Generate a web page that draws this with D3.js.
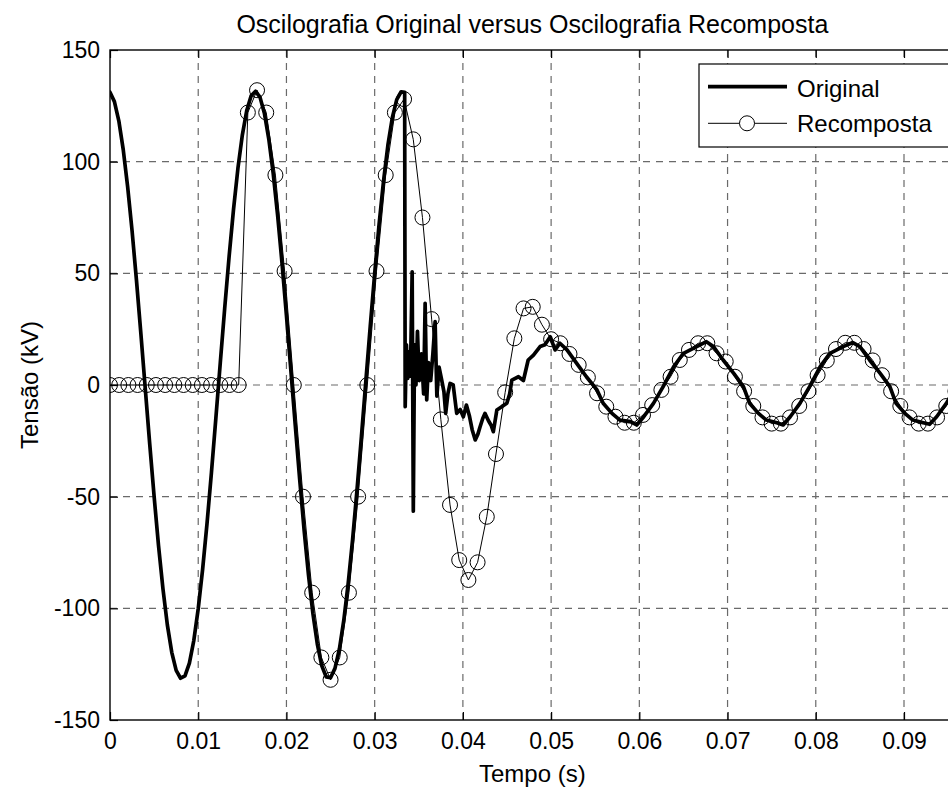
<!DOCTYPE html>
<html>
<head>
<meta charset="utf-8">
<script src="https://cdn.jsdelivr.net/npm/d3@7"></script>
<style>
  html, body { margin: 0; padding: 0; background: #fff; }
  svg { display: block; font-family: "Liberation Sans", Arial, Helvetica, sans-serif; }
</style>
</head>
<body>
<svg id="chart" width="948" height="789"></svg>
<script>
// ---- data -------------------------------------------------------------
// Original record: time (ms) and voltage (kV)
const origMs = [
  0, 0.5, 1, 1.5, 2, 2.5, 3, 3.5, 4, 4.5, 5, 5.5, 6, 6.5, 7, 7.5, 8, 8.5, 9, 9.5,
  10, 10.5, 11, 11.5, 12, 12.5, 13, 13.5, 14, 14.5, 15, 15.5, 16, 16.5, 17, 17.5,
  18, 18.5, 19, 19.5, 20, 20.5, 21, 21.5, 22, 22.5, 23, 23.5, 24, 24.5, 25, 25.5,
  26, 26.5, 27, 27.5, 28, 28.5, 29, 29.5, 30, 30.5, 31, 31.5, 32, 32.5, 33,
  33.40, 33.46, 33.60, 33.75, 33.90, 34.05, 34.25, 34.38, 34.52, 34.68, 34.85,
  35.05, 35.30, 35.55, 35.72, 35.90, 36.10, 36.35, 36.60, 36.85, 37.05, 37.30,
  37.60, 37.85, 38.05, 38.30, 38.55, 38.90, 39.30, 39.70, 40.05, 40.40, 40.75,
  41.05, 41.40, 41.70, 41.95, 42.25, 42.50, 42.90, 43.20, 43.45, 43.85, 44.40,
  44.98, 45.30, 45.55, 46.30, 46.86, 47.40, 48.00, 48.75, 49.30, 49.90, 50.45,
  51.00, 51.80, 52.90, 54.00, 55.20, 55.90, 56.90, 57.80, 59.00, 59.70, 60.50,
  61.60, 62.70, 63.90, 65.00, 66.50, 67.60, 68.40, 69.50, 70.70, 71.80, 72.50,
  73.50, 74.40, 75.60, 76.30, 77.10, 78.20, 79.30, 80.50, 81.60, 83.10, 84.20,
  85.00, 86.10, 87.30, 88.40, 89.10, 90.10, 91.00, 92.20, 92.90, 93.70, 94.80,
  95.90, 97.10
];
const origKV = [
  131.1, 126.9, 118.3, 105.4, 88.8, 69.1, 46.9, 23.0, -1.7, -26.3,
  -49.9, -71.9, -91.2, -107.4, -119.7, -127.8, -131.3, -130.2, -124.5, -114.4,
  -100.2, -82.5, -61.9, -39.1, -14.8, 9.9, 34.3, 57.5, 78.6, 97.0,
  111.9, 122.9, 129.5, 131.5, 128.9, 121.7, 110.1, 94.7, 76.0, 54.5,
  31.1, 6.6, -18.1, -42.2, -64.8, -85.1, -102.3, -116.0, -125.6, -130.7,
  -131.1, -126.9, -118.3, -105.4, -88.8, -69.1, -46.9, -23.0, 1.7, 26.3,
  49.9, 71.9, 91.2, 107.4, 119.7, 127.8, 131.3,
  131.0, -9.7, 18, 3, 15, 4, 50.7, -56.5, 18, 0, 24,
  2, 14, -4, 36.6, -6.7, 10, 2, 14, 28.4, -5, 8,
  2.2, -3, -12.7, -4, 0.7, 0, -12.7, -11, -14.2, -9, -14,
  -20, -24.6, -22, -18.7, -15, -12.7, -16, -18, -20.9, -11.2, -9.7,
  -8.2, -4, 2.2, 3.7, 2, 11.2, 13.4, 17.2, 18, 21.6, 15.7,
  18.7, 15.7, 9.7, 3.7, -2.2, -8.2, -12.7, -15.7, -16.4, -17.9, -14.2,
  -8.2, -0.7, 8.2, 14.2, 17.2, 19.4, 17.2, 11.2, 5.2, -0.7, -8.2,
  -12.7, -15.7, -16.9, -17.9, -14.2, -8.2, -0.7, 8.2, 14.2, 17.2, 19.0,
  17.2, 11.2, 5.2, -0.7, -8.2, -12.7, -15.7, -16.9, -17.6, -14.2, -8.2,
  -0.7, 8.2
];

// Recomposed signal: one estimate per sample, 16 samples per 60 Hz cycle
const recompRate = 960;   // samples per second
const recompKV = [
  0, 0, 0, 0, 0, 0, 0, 0, 0, 0, 0, 0, 0, 0, 0,
  122, 132, 122, 94, 51, 0, -50, -93, -122, -132, -122, -93, -50, 0, 51, 94, 122,
  128, 110, 75, 29.5, -15.4, -53.7, -78.4, -87.3, -79.4, -59, -30.9, -3.3, 20.9,
  34.3, 35, 27, 20.5, 18.7, 13.9, 9, 3.4, -3.7, -9.7, -14.2, -16.9, -16.9, -13.4,
  -9, -2.2, 3.7, 11.2, 15.7, 18.7, 18.7, 14.2, 10.5, 3.7, -2.8, -9.4, -14.5,
  -17.3, -17.3, -14.5, -9.4, -2.8, 4.4, 11.0, 16.1, 18.9, 18.9, 16.1, 11.0, 4.4,
  -2.8, -9.4, -14.5, -17.3, -17.3, -14.5, -9.4, -2.8, 4.4
];

const xTicks = [0, 0.01, 0.02, 0.03, 0.04, 0.05, 0.06, 0.07, 0.08, 0.09];
const xTickLabels = ["0", "0.01", "0.02", "0.03", "0.04", "0.05", "0.06", "0.07", "0.08", "0.09"];
const yTicks = [-150, -100, -50, 0, 50, 100, 150];
const yTickLabels = ["-150", "-100", "-50", "0", "50", "100", "150"];

const seriesNames = ["Original", "Recomposta"];
const titleText = "Oscilografia Original versus Oscilografia Recomposta";
const xLabelText = "Tempo (s)";
const yLabelText = "Tensão (kV)";

// ---- layout -----------------------------------------------------------
const plot = { left: 110, right: 958.7, top: 50, bottom: 720 };
const tickFont = 23;
const labelFont = 24;
const titleFont = 25;

const svg = d3.select("#chart");

const x = d3.scaleLinear().domain([0, 0.0962]).range([plot.left, plot.right]);
const y = d3.scaleLinear().domain([-150, 150]).range([plot.bottom, plot.top]);

svg.append("defs").append("clipPath").attr("id", "plotClip")
  .append("rect")
  .attr("x", plot.left).attr("y", plot.top)
  .attr("width", plot.right - plot.left).attr("height", plot.bottom - plot.top);

// grid
const grid = svg.append("g")
  .attr("stroke", "#6a6a6a").attr("stroke-width", 1.2)
  .attr("stroke-dasharray", "7,6").attr("fill", "none");
grid.selectAll("line.vx").data(xTicks.filter(d => d > 0)).join("line")
  .attr("x1", d => x(d)).attr("x2", d => x(d))
  .attr("y1", plot.top).attr("y2", plot.bottom);
grid.selectAll("line.hy").data(yTicks.filter(d => d > -150 && d < 150)).join("line")
  .attr("x1", plot.left).attr("x2", plot.right)
  .attr("y1", d => y(d)).attr("y2", d => y(d));

// series
const origData = origMs.map((t, i) => [t / 1000, origKV[i]]);
const recompData = recompKV.map((v, k) => [k / recompRate, v]);

const line = d3.line().x(d => x(d[0])).y(d => y(d[1]));

const dataG = svg.append("g").attr("clip-path", "url(#plotClip)");
dataG.append("path").datum(origData)
  .attr("d", line)
  .attr("fill", "none").attr("stroke", "#000").attr("stroke-width", 3.7)
  .attr("stroke-linejoin", "round").attr("stroke-linecap", "round");
dataG.append("path").datum(recompData)
  .attr("d", line)
  .attr("fill", "none").attr("stroke", "#000").attr("stroke-width", 1);
dataG.selectAll("circle.rc").data(recompData).join("circle")
  .attr("class", "rc")
  .attr("cx", d => x(d[0])).attr("cy", d => y(d[1])).attr("r", 7.5)
  .attr("fill", "none").attr("stroke", "#000").attr("stroke-width", 1);

// axes (ticks point inward on all four sides)
function styleAxis(g) {
  g.select(".domain").remove();
  g.selectAll(".tick line").attr("stroke", "#000").attr("stroke-width", 1.2);
  g.selectAll(".tick text").attr("fill", "#000").attr("font-size", tickFont);
}
svg.append("g").attr("transform", `translate(0,${plot.bottom})`)
  .call(d3.axisBottom(x).tickValues(xTicks).tickFormat((d, i) => xTickLabels[i])
    .tickSizeInner(-8).tickSizeOuter(0).tickPadding(12.5))
  .call(styleAxis);
svg.append("g").attr("transform", `translate(0,${plot.top})`)
  .call(d3.axisTop(x).tickValues(xTicks).tickFormat("")
    .tickSizeInner(-8).tickSizeOuter(0))
  .call(styleAxis);
svg.append("g").attr("transform", `translate(${plot.left},0)`)
  .call(d3.axisLeft(y).tickValues(yTicks).tickFormat((d, i) => yTickLabels[i])
    .tickSizeInner(-8).tickSizeOuter(0).tickPadding(10))
  .call(styleAxis);
svg.append("g").attr("transform", `translate(${plot.right},0)`)
  .call(d3.axisRight(y).tickValues(yTicks).tickFormat("")
    .tickSizeInner(-8).tickSizeOuter(0))
  .call(styleAxis);

svg.append("rect")
  .attr("x", plot.left).attr("y", plot.top)
  .attr("width", plot.right - plot.left).attr("height", plot.bottom - plot.top)
  .attr("fill", "none").attr("stroke", "#000").attr("stroke-width", 1.4);

// title and axis labels
const cx = (plot.left + plot.right) / 2;
svg.append("text").attr("x", cx - 2).attr("y", 33)
  .attr("text-anchor", "middle").attr("font-size", titleFont).text(titleText);
svg.append("text").attr("x", cx - 2).attr("y", 782)
  .attr("text-anchor", "middle").attr("font-size", labelFont).text(xLabelText);
svg.append("text")
  .attr("transform", `translate(38,${(plot.top + plot.bottom) / 2}) rotate(-90)`)
  .attr("text-anchor", "middle").attr("font-size", labelFont).text(yLabelText);

// legend
const lg = svg.append("g").attr("transform", "translate(699,64)");
lg.append("rect").attr("x", 0).attr("y", 0).attr("width", 270).attr("height", 83)
  .attr("fill", "#fff").attr("stroke", "#000").attr("stroke-width", 1.2);
lg.append("line").attr("x1", 9).attr("x2", 88).attr("y1", 22.7).attr("y2", 22.7)
  .attr("stroke", "#000").attr("stroke-width", 3.7);
lg.append("line").attr("x1", 9).attr("x2", 88).attr("y1", 59.3).attr("y2", 59.3)
  .attr("stroke", "#000").attr("stroke-width", 1);
lg.append("circle").attr("cx", 48).attr("cy", 59.3).attr("r", 7.5)
  .attr("fill", "#fff").attr("stroke", "#000").attr("stroke-width", 1);
lg.selectAll("text").data(seriesNames).join("text")
  .attr("x", 98).attr("y", (d, i) => i === 0 ? 32.5 : 67.7)
  .attr("font-size", labelFont).attr("fill", "#000").text(d => d);
</script>
</body>
</html>
